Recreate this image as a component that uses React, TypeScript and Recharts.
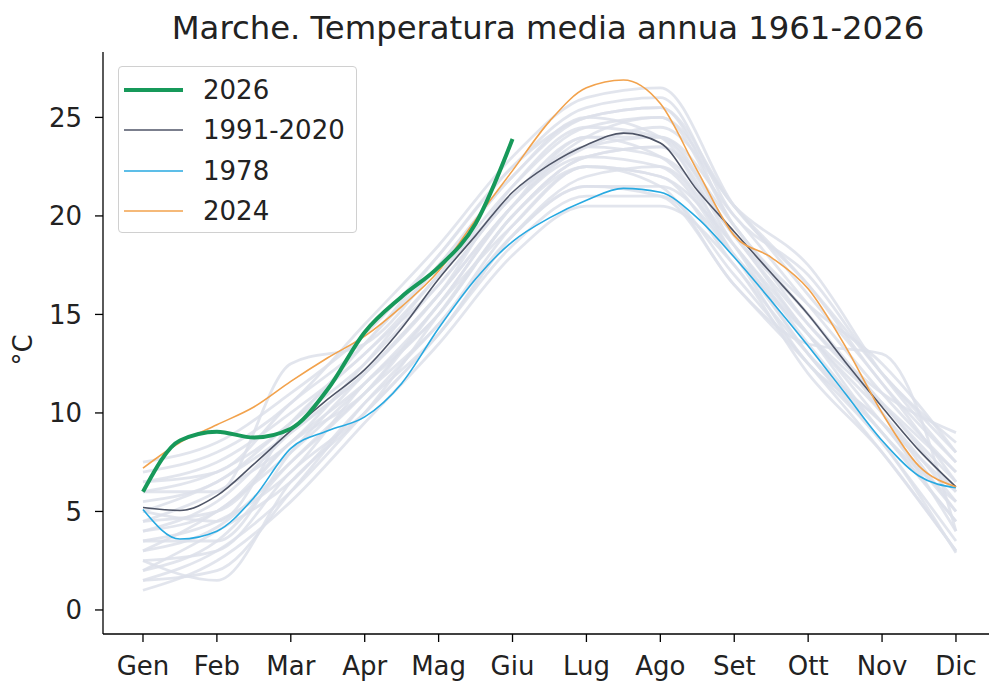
import { LineChart, Line, XAxis, YAxis, Legend } from "recharts";

const months = ["Gen", "Feb", "Mar", "Apr", "Mag", "Giu", "Lug", "Ago", "Set", "Ott", "Nov", "Dic"];
const yTicks = [0, 5, 10, 15, 20, 25];

// highlighted series, sampled every half month (Gen .. Dic)
const normal9120 = [5.2, 5.05, 5.8, 7.4, 9.1, 10.7, 12.2, 14.3, 16.8, 19.0, 21.2, 22.6, 23.6, 24.2, 23.7, 21.3, 19.2, 17.1, 15.0, 12.6, 10.3, 8.1, 6.25];
const year1978 = [5.1, 3.6, 4.0, 5.7, 8.2, 9.1, 9.8, 11.5, 14.3, 16.8, 18.7, 19.9, 20.8, 21.4, 21.2, 19.9, 17.9, 15.7, 13.4, 11.0, 8.6, 6.8, 6.2];
const year2024 = [7.2, 8.5, 9.4, 10.3, 11.6, 12.8, 13.9, 15.4, 17.2, 19.8, 22.3, 24.8, 26.5, 26.9, 25.7, 22.3, 19.0, 17.9, 16.3, 13.4, 10.0, 7.3, 6.25];
const year2026 = [6.0, 8.6, 9.05, 8.75, 9.2, 11.2, 14.1, 15.9, 17.4, 19.6, 23.9];

// other years 1961-2025, monthly values
const otherYears = [
  [3.0, 4.2, 7.5, 11.0, 15.5, 19.5, 22.5, 22.0, 18.5, 13.5, 9.0, 4.5],
  [1.5, 2.0, 6.0, 10.5, 14.5, 19.0, 21.5, 21.5, 18.0, 13.0, 8.5, 3.5],
  [4.5, 5.0, 8.5, 11.5, 15.0, 20.0, 23.0, 23.5, 19.5, 14.5, 10.5, 6.0],
  [2.5, 3.0, 7.0, 10.0, 14.0, 18.5, 21.0, 21.0, 17.0, 12.5, 8.0, 3.0],
  [5.5, 6.5, 9.5, 12.5, 16.5, 21.0, 24.0, 24.0, 20.0, 15.5, 11.0, 7.0],
  [6.5, 7.5, 10.0, 13.0, 17.0, 21.5, 24.5, 25.0, 20.5, 16.5, 11.5, 7.5],
  [2.0, 4.0, 6.5, 10.5, 14.0, 19.0, 22.0, 22.5, 18.0, 12.5, 9.5, 4.0],
  [3.5, 3.5, 8.0, 12.0, 16.0, 20.5, 23.5, 23.0, 19.0, 14.0, 10.0, 5.5],
  [7.5, 8.5, 11.0, 14.0, 18.0, 22.5, 25.5, 26.0, 20.0, 17.0, 12.0, 8.5],
  [1.0, 2.5, 5.5, 9.5, 13.5, 18.0, 20.5, 20.5, 17.5, 12.0, 8.0, 3.0],
  [4.0, 5.5, 9.0, 12.0, 16.0, 21.5, 24.5, 24.0, 19.0, 15.0, 10.0, 5.0],
  [6.0, 6.0, 12.5, 13.5, 17.5, 22.0, 25.0, 25.5, 19.5, 15.5, 12.5, 8.0],
  [3.0, 5.0, 8.0, 11.5, 15.5, 20.5, 23.0, 22.5, 18.0, 14.0, 9.5, 5.0],
  [5.0, 4.5, 9.5, 13.0, 16.5, 21.0, 23.5, 24.5, 20.5, 16.0, 11.5, 6.5],
  [2.0, 3.5, 7.5, 11.0, 14.5, 19.5, 22.5, 21.5, 16.5, 13.5, 13.0, 4.0],
  [7.0, 8.0, 10.5, 14.5, 18.5, 23.0, 26.0, 26.5, 20.5, 16.5, 12.0, 8.0],
  [4.5, 6.0, 8.5, 12.5, 17.0, 21.0, 24.0, 25.0, 19.5, 15.0, 10.5, 6.5],
  [2.5, 1.5, 6.5, 10.0, 15.0, 20.0, 23.0, 23.5, 18.5, 13.0, 9.0, 4.5],
  [6.0, 7.0, 9.5, 13.5, 17.5, 22.0, 25.0, 24.0, 18.0, 14.0, 10.5, 7.0],
  [3.5, 4.5, 7.0, 11.5, 15.0, 20.0, 22.5, 22.0, 17.5, 13.0, 9.5, 6.0],
  [5.0, 6.5, 9.0, 12.0, 16.0, 20.5, 23.5, 24.0, 19.0, 14.5, 11.0, 9.0],
  [1.5, 3.0, 6.0, 10.0, 14.0, 19.0, 21.5, 21.0, 16.5, 12.5, 8.5, 2.9],
  [4.0, 5.0, 8.5, 11.0, 15.5, 20.5, 24.0, 23.0, 18.5, 14.0, 9.0, 5.5],
  [6.5, 7.0, 10.5, 13.5, 18.0, 22.5, 25.0, 25.5, 20.5, 17.5, 12.0, 7.5],
];

const GREEN = "#17995a";
const DARK = "#4f5567";
const BLUE = "#27a9e1";
const ORANGE = "#f2a24c";
const GREY = "#dde1ea";
const FONT = "DejaVu Sans";

const rows = normal9120.map((v, i) => {
  const row: Record<string, number | undefined> = {
    m: i / 2,
    normal: v,
    y1978: year1978[i],
    y2024: year2024[i],
    y2026: year2026[i],
  };
  otherYears.forEach((yr, k) => {
    row["g" + k] = i % 2 === 0 ? yr[i / 2] : undefined;
  });
  return row;
});

const legendItems = [
  { name: "2026", color: GREEN, width: 4 },
  { name: "1991-2020", color: DARK, width: 1.6 },
  { name: "1978", color: BLUE, width: 1.6 },
  { name: "2024", color: ORANGE, width: 1.6 },
];

function LegendBox() {
  return (
    <div
      style={{
        width: 239,
        height: 167,
        boxSizing: "border-box",
        border: "1px solid #d0d0d0",
        borderRadius: 4,
        background: "rgba(255,255,255,0.85)",
        paddingTop: 3,
        fontFamily: FONT,
        fontSize: 26,
        color: "#222",
      }}
    >
      {legendItems.map((it) => (
        <div key={it.name} style={{ display: "flex", alignItems: "center", height: 40.3 }}>
          <svg width={64} height={10} style={{ display: "block" }}>
            <line x1={5} x2={64} y1={5} y2={5} stroke={it.color} strokeWidth={it.width} />
          </svg>
          <span style={{ marginLeft: 20, lineHeight: "30px" }}>{it.name}</span>
        </div>
      ))}
    </div>
  );
}

export default function App() {
  return (
    <div style={{ position: "absolute", left: 0, top: 0, width: 989, height: 681, background: "#fff" }}>
      <div
        style={{
          position: "absolute",
          left: 103,
          top: 12,
          width: 890,
          textAlign: "center",
          fontFamily: FONT,
          fontSize: 32.3,
          lineHeight: "32px",
          color: "#222",
          zIndex: 2,
        }}
      >
        Marche. Temperatura media annua 1961-2026
      </div>
      <LineChart width={989} height={681} data={rows} margin={{ top: 52, right: 0, bottom: 0, left: 0 }}>
        <XAxis
          dataKey="m"
          type="number"
          domain={[-0.541, 11.447]}
          allowDataOverflow
          ticks={months.map((_, i) => i)}
          interval={0}
          tickFormatter={(i: number) => months[i]}
          height={47}
          tickSize={8}
          tickMargin={15}
          stroke="#000"
          tick={{ fill: "#222", fontSize: 26, fontFamily: FONT }}
          axisLine={{ stroke: "#000", strokeWidth: 1.3 }}
          tickLine={{ stroke: "#000", strokeWidth: 1.3 }}
        />
        <XAxis
          xAxisId="top"
          orientation="top"
          dataKey="m"
          type="number"
          domain={[-0.541, 11.447]}
          allowDataOverflow
          height={0}
          tick={false}
          tickLine={false}
          axisLine={{ stroke: "#000", strokeWidth: 1.3 }}
        />
        <YAxis
          type="number"
          domain={[-1.22, 28.32]}
          allowDataOverflow
          ticks={yTicks}
          interval={0}
          width={103}
          tickSize={8}
          tickMargin={13}
          tick={{ fill: "#222", fontSize: 26, fontFamily: FONT }}
          axisLine={{ stroke: "#000", strokeWidth: 1.3 }}
          tickLine={{ stroke: "#000", strokeWidth: 1.3 }}
          label={{
            value: "°C",
            content: () => (
              <text
                x={23}
                y={350}
                transform="rotate(-90 23 350)"
                textAnchor="middle"
                dominantBaseline="central"
                fontSize={26}
                fontFamily={FONT}
                fill="#222"
              >
                °C
              </text>
            ),
          }}
        />
        <Legend
          layout="vertical"
          align="center"
          verticalAlign="middle"
          content={() => <LegendBox />}
          wrapperStyle={{ left: 118, top: 66, width: "auto", height: "auto" }}
        />
        {otherYears.map((_, k) => (
          <Line
            key={k}
            dataKey={"g" + k}
            type="monotone"
            stroke={GREY}
            strokeOpacity={0.85}
            strokeWidth={2.8}
            dot={false}
            connectNulls
            isAnimationActive={false}
            legendType="none"
          />
        ))}
        <Line dataKey="normal" type="monotone" stroke={DARK} strokeWidth={1.6} dot={false} isAnimationActive={false} />
        <Line dataKey="y1978" type="monotone" stroke={BLUE} strokeWidth={1.6} dot={false} isAnimationActive={false} />
        <Line dataKey="y2024" type="monotone" stroke={ORANGE} strokeWidth={1.6} dot={false} isAnimationActive={false} />
        <Line dataKey="y2026" type="monotone" stroke={GREEN} strokeWidth={4} dot={false} isAnimationActive={false} />
      </LineChart>
    </div>
  );
}
